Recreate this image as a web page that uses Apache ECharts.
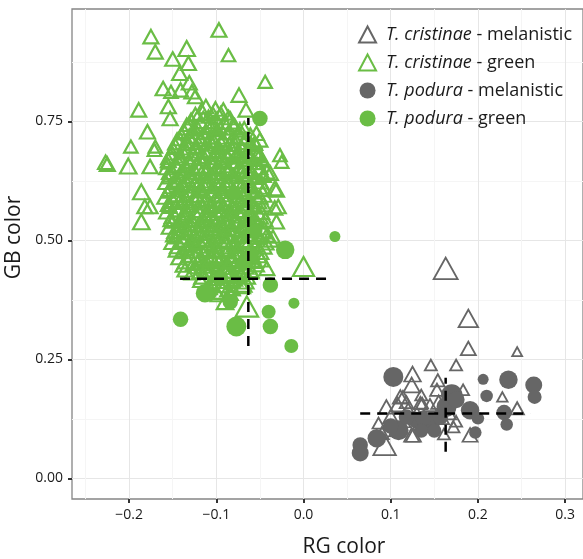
<!DOCTYPE html>
<html>
<head>
<meta charset="utf-8">
<script src="https://cdn.jsdelivr.net/npm/echarts@6/dist/echarts.min.js"></script>
<style>
  html, body { margin: 0; padding: 0; background: #fff; }
  #main { width: 583px; height: 559px; }
</style>
</head>
<body>
<div id="main"></div>
<script>
// [RG, GB, size]
var cristinaeMelanistic = [
  [0.163,0.441,6],[0.189,0.336,4.5],[0.189,0.273,3],[0.245,0.266,1.3],[0.146,0.238,2],
  [0.175,0.238,2],[0.125,0.219,3.5],[0.124,0.196,3.5],[0.154,0.206,2.5],[0.183,0.186,2],
  [0.228,0.171,1.5],[0.245,0.147,2.5],[0.093,0.070,5.5],[0.191,0.091,3],[0.161,0.093,2],
  [0.172,0.108,2],[0.095,0.150,3],[0.111,0.171,3],[0.134,0.158,2.5],[0.086,0.116,2],
  [0.124,0.091,3],[0.145,0.154,2.5],[0.153,0.186,2.5],[0.114,0.171,2.5],[0.136,0.158,2],
  [0.100,0.130,3],[0.115,0.120,2.5],[0.120,0.145,2.5],[0.105,0.100,2],[0.130,0.135,3],
  [0.140,0.110,2.5],[0.155,0.160,3],[0.160,0.125,2],[0.090,0.095,2.5],[0.118,0.160,2.5],
  [0.108,0.155,3],[0.135,0.175,2],[0.175,0.120,2],[0.168,0.135,2],[0.126,0.091,3]
];
var cristinaeGreen = [
  [-0.175,0.928,3],[-0.170,0.896,3],[-0.097,0.942,3],[-0.086,0.889,2.5],[-0.134,0.903,3.5],
  [-0.150,0.881,3],[-0.132,0.872,3],[-0.142,0.851,3],[-0.131,0.831,3],[-0.044,0.833,2.5],
  [-0.161,0.819,3],[-0.152,0.812,2.5],[-0.141,0.816,3],[-0.128,0.812,3],[-0.124,0.802,3],
  [-0.074,0.805,3],[-0.189,0.774,3],[-0.155,0.781,3],[-0.153,0.756,3],[-0.066,0.774,3],
  [-0.179,0.728,3],[-0.198,0.697,2.5],[-0.170,0.697,2.5],[-0.227,0.664,3],[-0.225,0.660,3],
  [-0.201,0.656,3.5],[-0.176,0.655,3],[-0.171,0.690,2.5],[-0.186,0.602,3.5],[-0.176,0.571,3],
  [-0.186,0.539,3.5],[-0.027,0.679,2.5],[-0.025,0.665,2.5],[-0.042,0.644,3],[-0.031,0.606,3],
  [-0.029,0.571,3],[-0.031,0.539,3],[-0.035,0.508,2.5],[-0.052,0.683,3],[-0.056,0.704,3],
  [-0.038,0.641,3],[-0.033,0.568,3],[0.000,0.445,5],[-0.065,0.361,5.5],[-0.038,0.501,3],
  [-0.136,0.438,3],[-0.119,0.434,3],[-0.090,0.371,3.5],[-0.087,0.396,3],[-0.042,0.441,3],
  [-0.182,0.571,3],[-0.054,0.725,3],[-0.050,0.711,3],[-0.033,0.609,3],
  [-0.112,0.781,3],[-0.101,0.776,3],
  [-0.124,0.764,3],[-0.109,0.760,2.5],[-0.095,0.766,3],[-0.086,0.758,3],
  [-0.131,0.744,3],[-0.118,0.749,3],[-0.104,0.743,3.5],[-0.091,0.748,3],[-0.079,0.742,2.5],
  [-0.137,0.729,3],[-0.125,0.734,3],[-0.112,0.728,3],[-0.099,0.733,3],[-0.086,0.727,3],[-0.073,0.732,3],
  [-0.142,0.714,3],[-0.131,0.719,3],[-0.118,0.713,3.5],[-0.106,0.718,3],[-0.093,0.712,3],[-0.080,0.717,3],[-0.067,0.713,2.5],
  [-0.147,0.699,3],[-0.135,0.704,3],[-0.123,0.698,3],[-0.111,0.703,3],[-0.098,0.697,3],[-0.085,0.702,3],[-0.072,0.696,3],[-0.060,0.701,3],
  [-0.151,0.684,3],[-0.139,0.688,3],[-0.127,0.682,3],[-0.114,0.687,3.5],[-0.102,0.681,3],[-0.090,0.686,3],[-0.077,0.680,3],[-0.064,0.685,3],[-0.053,0.679,3],
  [-0.155,0.668,3],[-0.143,0.673,3],[-0.131,0.667,3],[-0.119,0.672,3],[-0.107,0.666,3],[-0.094,0.671,3.5],[-0.082,0.665,3],[-0.069,0.670,3],[-0.057,0.664,3],[-0.048,0.669,2.5],
  [-0.157,0.653,3],[-0.146,0.657,3],[-0.134,0.651,3],[-0.122,0.656,3],[-0.110,0.650,3],[-0.098,0.655,3],[-0.086,0.649,3],[-0.073,0.654,3],[-0.061,0.648,3],[-0.050,0.653,3],
  [-0.153,0.638,3],[-0.141,0.642,3],[-0.129,0.636,3.5],[-0.117,0.641,3],[-0.105,0.635,3],[-0.093,0.640,3],[-0.081,0.634,3],[-0.068,0.639,3],[-0.056,0.633,3],[-0.046,0.637,3],
  [-0.158,0.622,3],[-0.146,0.627,3],[-0.134,0.621,3],[-0.122,0.626,3],[-0.110,0.620,3],[-0.097,0.625,3],[-0.085,0.619,3.5],[-0.073,0.624,3],[-0.061,0.618,3],[-0.049,0.623,3],
  [-0.154,0.607,3],[-0.142,0.611,3],[-0.130,0.605,3],[-0.118,0.610,3],[-0.106,0.604,3],[-0.093,0.609,3],[-0.081,0.603,3],[-0.069,0.608,3],[-0.057,0.602,3],[-0.045,0.607,3],
  [-0.159,0.591,3],[-0.147,0.595,3],[-0.135,0.589,3],[-0.123,0.594,3],[-0.111,0.588,3.5],[-0.099,0.593,3],[-0.087,0.587,3],[-0.074,0.592,3],[-0.062,0.586,3],[-0.050,0.591,3],
  [-0.155,0.576,3],[-0.143,0.580,3],[-0.131,0.574,3],[-0.119,0.579,3],[-0.107,0.573,3],[-0.095,0.578,3],[-0.082,0.572,3],[-0.070,0.577,3],[-0.058,0.571,3],[-0.046,0.575,3],
  [-0.157,0.560,3],[-0.145,0.564,3],[-0.133,0.558,3],[-0.121,0.563,3.5],[-0.109,0.557,3],[-0.096,0.562,3],[-0.084,0.556,3],[-0.072,0.561,3],[-0.060,0.555,3],[-0.048,0.559,3],
  [-0.152,0.544,3],[-0.140,0.548,3],[-0.128,0.542,3],[-0.116,0.547,3],[-0.104,0.541,3],[-0.092,0.546,3],[-0.079,0.540,3.5],[-0.067,0.545,3],[-0.055,0.539,3],[-0.044,0.543,3],
  [-0.154,0.528,3],[-0.142,0.532,3],[-0.130,0.526,3],[-0.118,0.531,3],[-0.106,0.525,3],[-0.094,0.530,3],[-0.081,0.524,3],[-0.069,0.529,3],[-0.057,0.523,3],[-0.046,0.527,3],
  [-0.149,0.512,3],[-0.137,0.516,3],[-0.125,0.510,3],[-0.113,0.515,3],[-0.101,0.509,3.5],[-0.089,0.514,3],[-0.076,0.508,3],[-0.064,0.513,3],[-0.052,0.507,3],[-0.042,0.511,3],
  [-0.151,0.496,3],[-0.139,0.500,3],[-0.127,0.494,3],[-0.115,0.499,3],[-0.103,0.493,3],[-0.091,0.498,3],[-0.078,0.492,3],[-0.066,0.497,3],[-0.054,0.491,3],[-0.043,0.495,3],
  [-0.146,0.480,3],[-0.134,0.484,3],[-0.122,0.478,3],[-0.110,0.483,3.5],[-0.098,0.477,3],[-0.086,0.482,3],[-0.073,0.476,3],[-0.061,0.481,3],[-0.049,0.475,3],
  [-0.143,0.464,3],[-0.131,0.468,3],[-0.119,0.462,3],[-0.107,0.467,3],[-0.095,0.461,3],[-0.083,0.466,3],[-0.070,0.460,3],[-0.058,0.465,3],[-0.048,0.459,3],
  [-0.138,0.448,3],[-0.126,0.452,3],[-0.114,0.446,3],[-0.102,0.451,3],[-0.090,0.445,3.5],[-0.078,0.450,3],[-0.066,0.444,3],[-0.054,0.449,3],
  [-0.128,0.432,3],[-0.108,0.436,3],[-0.096,0.430,3],[-0.084,0.435,3],[-0.072,0.429,3],[-0.060,0.434,3],
  [-0.118,0.416,3],[-0.104,0.420,3],[-0.092,0.414,3],[-0.079,0.419,3],[-0.066,0.413,3],
  [-0.108,0.401,3],[-0.095,0.405,3],[-0.082,0.399,3],[-0.070,0.403,3],
  [-0.098,0.386,3],[-0.084,0.389,3],
  [-0.117,0.770,4],[-0.104,0.768,2],[-0.092,0.771,4],
  [-0.129,0.755,2],[-0.115,0.753,4],[-0.100,0.756,2],[-0.084,0.752,4],
  [-0.134,0.739,4],[-0.121,0.737,2],[-0.108,0.740,4],[-0.095,0.736,2],[-0.081,0.739,4],[-0.068,0.737,2],
  [-0.140,0.723,2],[-0.127,0.721,4],[-0.114,0.724,2],[-0.100,0.720,4],[-0.087,0.723,2],[-0.074,0.721,4],[-0.061,0.724,2],
  [-0.145,0.708,4],[-0.132,0.706,2],[-0.119,0.709,4],[-0.105,0.705,2],[-0.092,0.708,4],[-0.079,0.706,2],[-0.066,0.709,4],[-0.055,0.705,2],
  [-0.149,0.693,2],[-0.136,0.691,4],[-0.123,0.694,2],[-0.109,0.690,4],[-0.096,0.693,2],[-0.083,0.691,4],[-0.070,0.694,2],[-0.058,0.690,4],
  [-0.153,0.677,4],[-0.140,0.675,2],[-0.127,0.678,4],[-0.113,0.674,2],[-0.100,0.677,4],[-0.087,0.675,2],[-0.074,0.678,4],[-0.062,0.674,2],[-0.050,0.676,4],
  [-0.156,0.662,2],[-0.143,0.660,4],[-0.130,0.663,2],[-0.116,0.659,4],[-0.103,0.662,2],[-0.090,0.660,4],[-0.078,0.663,2],[-0.065,0.659,4],[-0.053,0.661,2],
  [-0.152,0.646,4],[-0.139,0.644,2],[-0.126,0.647,4],[-0.112,0.643,2],[-0.099,0.646,4],[-0.087,0.644,2],[-0.074,0.647,4],[-0.062,0.643,2],[-0.051,0.645,4],
  [-0.155,0.631,2],[-0.142,0.629,4],[-0.129,0.632,2],[-0.116,0.628,4],[-0.103,0.631,2],[-0.091,0.629,4],[-0.078,0.632,2],[-0.066,0.628,4],[-0.054,0.630,2],
  [-0.150,0.616,4],[-0.138,0.614,2],[-0.125,0.617,4],[-0.113,0.613,2],[-0.100,0.616,4],[-0.088,0.614,2],[-0.075,0.617,4],[-0.063,0.613,2],[-0.052,0.615,4],
  [-0.156,0.601,2],[-0.143,0.599,4],[-0.131,0.602,2],[-0.118,0.598,4],[-0.105,0.601,2],[-0.093,0.599,4],[-0.080,0.602,2],[-0.068,0.598,4],[-0.056,0.600,2],[-0.047,0.598,4],
  [-0.151,0.585,4],[-0.139,0.583,2],[-0.126,0.586,4],[-0.114,0.582,2],[-0.101,0.585,4],[-0.089,0.583,2],[-0.076,0.586,4],[-0.064,0.582,2],[-0.053,0.584,4],
  [-0.154,0.569,2],[-0.141,0.567,4],[-0.129,0.570,2],[-0.116,0.566,4],[-0.103,0.569,2],[-0.091,0.567,4],[-0.078,0.570,2],[-0.066,0.566,4],[-0.054,0.568,2],
  [-0.149,0.553,4],[-0.137,0.551,2],[-0.124,0.554,4],[-0.112,0.550,2],[-0.099,0.553,4],[-0.087,0.551,2],[-0.074,0.554,4],[-0.062,0.550,2],[-0.051,0.552,4],
  [-0.151,0.538,2],[-0.138,0.536,4],[-0.126,0.539,2],[-0.113,0.535,4],[-0.100,0.538,2],[-0.088,0.536,4],[-0.075,0.539,2],[-0.063,0.535,4],[-0.052,0.537,2],
  [-0.146,0.522,4],[-0.134,0.520,2],[-0.121,0.523,4],[-0.109,0.519,2],[-0.096,0.522,4],[-0.084,0.520,2],[-0.071,0.523,4],[-0.059,0.519,2],[-0.048,0.521,4],
  [-0.148,0.506,2],[-0.135,0.504,4],[-0.123,0.507,2],[-0.110,0.503,4],[-0.097,0.506,2],[-0.085,0.504,4],[-0.072,0.507,2],[-0.060,0.503,4],[-0.049,0.505,2],
  [-0.143,0.490,4],[-0.131,0.488,2],[-0.118,0.491,4],[-0.106,0.487,2],[-0.093,0.490,4],[-0.081,0.488,2],[-0.068,0.491,4],[-0.056,0.487,2],[-0.047,0.489,4],
  [-0.140,0.474,2],[-0.127,0.472,4],[-0.115,0.475,2],[-0.102,0.471,4],[-0.089,0.474,2],[-0.077,0.472,4],[-0.064,0.475,2],[-0.053,0.471,4],
  [-0.134,0.458,4],[-0.122,0.456,2],[-0.109,0.459,4],[-0.097,0.455,2],[-0.084,0.458,4],[-0.072,0.456,2],[-0.060,0.459,4],
  [-0.124,0.442,2],[-0.111,0.440,4],[-0.099,0.443,2],[-0.086,0.439,4],[-0.074,0.442,2],[-0.062,0.440,4],
  [-0.115,0.426,4],[-0.102,0.424,2],[-0.089,0.427,4],[-0.077,0.423,2],[-0.066,0.426,4],
  [-0.105,0.410,2],[-0.093,0.408,4],[-0.080,0.411,2],[-0.070,0.409,4],
  [-0.093,0.394,4],[-0.080,0.396,2],
  [-0.128,0.700,5],[-0.104,0.695,5],[-0.080,0.690,5],[-0.140,0.665,5],[-0.116,0.660,5],
  [-0.092,0.657,5],[-0.068,0.652,5],[-0.134,0.625,5],[-0.110,0.622,5],[-0.086,0.618,5],
  [-0.062,0.612,5],[-0.145,0.590,5],[-0.121,0.585,5],[-0.097,0.581,5],[-0.073,0.577,5],
  [-0.136,0.550,5],[-0.112,0.546,5],[-0.088,0.542,5],[-0.064,0.538,5],[-0.141,0.513,5],
  [-0.117,0.509,5],[-0.093,0.505,5],[-0.069,0.501,5],[-0.128,0.474,5],[-0.104,0.470,5],
  [-0.080,0.466,5],[-0.115,0.440,5],[-0.090,0.435,5],
  [-0.120,0.690,1.5],[-0.096,0.685,1.5],[-0.072,0.681,1.5],[-0.130,0.645,1.5],[-0.106,0.640,1.5],
  [-0.082,0.636,1.5],[-0.058,0.632,1.5],[-0.141,0.607,1.5],[-0.117,0.603,1.5],[-0.093,0.599,1.5],
  [-0.069,0.595,1.5],[-0.130,0.568,1.5],[-0.106,0.564,1.5],[-0.082,0.560,1.5],[-0.058,0.556,1.5],
  [-0.137,0.530,1.5],[-0.113,0.526,1.5],[-0.089,0.522,1.5],[-0.065,0.519,1.5],[-0.123,0.492,1.5],
  [-0.099,0.488,1.5],[-0.075,0.484,1.5],[-0.110,0.455,1.5],[-0.086,0.452,1.5]
];
var poduraMelanistic = [
  [0.103,0.213,5],[0.235,0.207,4.5],[0.206,0.208,2],[0.264,0.196,4],[0.265,0.171,3],
  [0.210,0.173,2.5],[0.170,0.175,5.5],[0.191,0.143,4.5],[0.200,0.126,2.5],[0.230,0.138,3.5],
  [0.233,0.113,2.5],[0.197,0.096,2.5],[0.065,0.070,3.5],[0.065,0.053,4],[0.084,0.084,4.5],
  [0.109,0.101,5],[0.145,0.116,5],[0.164,0.150,5],[0.130,0.122,4],[0.157,0.129,3.5],
  [0.118,0.129,3.5],[0.137,0.126,3.5],[0.150,0.100,3],[0.100,0.110,3.5],[0.135,0.100,3],[0.175,0.165,4]
];
var poduraGreen = [
  [-0.050,0.756,3.5],[-0.021,0.480,4.5],[0.036,0.508,2],[-0.113,0.389,4.5],[-0.038,0.406,3.5],
  [-0.141,0.334,3.5],[-0.077,0.319,5],[-0.040,0.350,3],[-0.038,0.319,3.5],[-0.011,0.368,2],
  [-0.014,0.278,3],[-0.084,0.371,3.5],[-0.095,0.420,3.5],[-0.070,0.450,3],[-0.055,0.520,3],
  [-0.080,0.600,3],[-0.060,0.470,3.5]
];
// podura means +/- spread (dashed crosshairs)
var greenMeanH = [[-0.1416,0.419],[0.027,0.419]];
var greenMeanV = [[-0.0633,0.278],[-0.0633,0.757]];
var melMeanH = [[0.065,0.136],[0.260,0.136]];
var melMeanV = [[0.163,0.056],[0.163,0.211]];

var xTicks = [-0.2, -0.1, 0, 0.1, 0.2, 0.3];
var xMinor = [-0.25, -0.15, -0.05, 0.05, 0.15, 0.25];
var yTicks = [0, 0.25, 0.5, 0.75];
var yMinor = [0.125, 0.375, 0.625, 0.875];
var seriesNames = ['T. cristinae - melanistic', 'T. cristinae - green', 'T. podura - melanistic', 'T. podura - green'];

var GREEN = '#6abd45';
var GREY = '#666666';
var FONT = 'Open Sans';

window.onload = function () {
  myecharts();
}

function triSize(v) {
  var w = 6 + 3 * v[2];
  return [w, w * 0.9];
}
function dotSize(v) {
  return 5 + 3 * v[2];
}
function dashed(data) {
  return {
    type: 'line', data: data, symbol: 'none', silent: true, z: 5,
    lineStyle: { color: '#000', width: 2.5, type: [10, 7] }
  };
}

function myecharts() {
  var mychart = echarts.init(document.getElementById('main'));
  var xMin = -0.2655, xMax = 0.3205, yMin = -0.0435, yMax = 0.986;

  var option = {
    animation: false,
    textStyle: { fontFamily: FONT },
    grid: {
      left: 72, right: 0, top: 9, bottom: 60, show: true,
      outerBoundsMode: 'none', containLabel: false,
      borderColor: '#858585', borderWidth: 1.3, backgroundColor: 'transparent'
    },
    legend: {
      data: seriesNames,
      orient: 'vertical', right: 6, top: 19,
      itemWidth: 17, itemHeight: 16, itemGap: 7,
      textStyle: {
        fontFamily: FONT, fontSize: 18, color: '#1a1a1a', lineHeight: 21,
        padding: [0, 0, 0, 5],
        rich: { i: { fontStyle: 'italic', fontSize: 18, fontFamily: FONT, color: '#1a1a1a' } }
      },
      formatter: function (name) {
        var p = name.split(' - ');
        return '{i|' + p[0] + '} - ' + p[1];
      }
    },
    xAxis: [{
      type: 'value', min: xMin, max: xMax,
      name: 'RG color', nameLocation: 'middle', nameGap: 38,
      nameTextStyle: { fontSize: 21, color: '#1a1a1a', fontFamily: FONT, padding: [0, 0, 0, 33] },
      axisLine: { show: false, onZero: false },
      axisTick: { show: true, length: 4, lineStyle: { color: '#333', width: 2 }, customValues: xTicks },
      axisLabel: {
        customValues: xTicks, margin: 9, fontSize: 14, color: '#1a1a1a', fontFamily: FONT,
        formatter: function (v) { return v.toFixed(1).replace('-', '\u2212'); }
      },
      splitLine: { show: true, lineStyle: { color: '#e6e6e6', width: 1 } }
    }, {
      type: 'value', min: xMin, max: xMax, position: 'bottom',
      axisLine: { show: false, onZero: false },
      axisTick: { show: false, customValues: xMinor },
      axisLabel: { show: false },
      splitLine: { show: true, lineStyle: { color: '#f5f5f5', width: 1 } }
    }],
    yAxis: [{
      type: 'value', min: yMin, max: yMax,
      name: 'GB color', nameLocation: 'middle', nameGap: 45, nameRotate: 90,
      nameTextStyle: { fontSize: 21, color: '#1a1a1a', fontFamily: FONT, padding: [0, 0, 0, 33] },
      axisLine: { show: false, onZero: false },
      axisTick: { show: true, length: 4, lineStyle: { color: '#333', width: 2 }, customValues: yTicks },
      axisLabel: {
        customValues: yTicks, margin: 9, fontSize: 14, color: '#1a1a1a', fontFamily: FONT,
        formatter: function (v) { return v.toFixed(2); }
      },
      splitLine: { show: true, lineStyle: { color: '#e6e6e6', width: 1 } }
    }, {
      type: 'value', min: yMin, max: yMax, position: 'left',
      axisLine: { show: false, onZero: false },
      axisTick: { show: false, customValues: yMinor },
      axisLabel: { show: false },
      splitLine: { show: true, lineStyle: { color: '#f5f5f5', width: 1 } }
    }],
    series: [{
      name: seriesNames[0], type: 'scatter', data: cristinaeMelanistic,
      symbol: 'triangle', symbolSize: triSize,
      itemStyle: { color: 'rgba(255,255,255,0)', borderColor: GREY, borderWidth: 1.8, opacity: 1 }
    }, {
      name: seriesNames[1], type: 'scatter', data: cristinaeGreen,
      symbol: 'triangle', symbolSize: triSize,
      itemStyle: { color: 'rgba(255,255,255,0)', borderColor: GREEN, borderWidth: 2.2, opacity: 1 }
    }, {
      name: seriesNames[2], type: 'scatter', data: poduraMelanistic,
      symbol: 'circle', symbolSize: dotSize,
      itemStyle: { color: GREY, opacity: 1 }
    }, {
      name: seriesNames[3], type: 'scatter', data: poduraGreen,
      symbol: 'circle', symbolSize: dotSize,
      itemStyle: { color: GREEN, opacity: 1 }
    },
      dashed(greenMeanH), dashed(greenMeanV), dashed(melMeanH), dashed(melMeanV)
    ]
  };
  mychart.setOption(option);
}
</script>
</body>
</html>
